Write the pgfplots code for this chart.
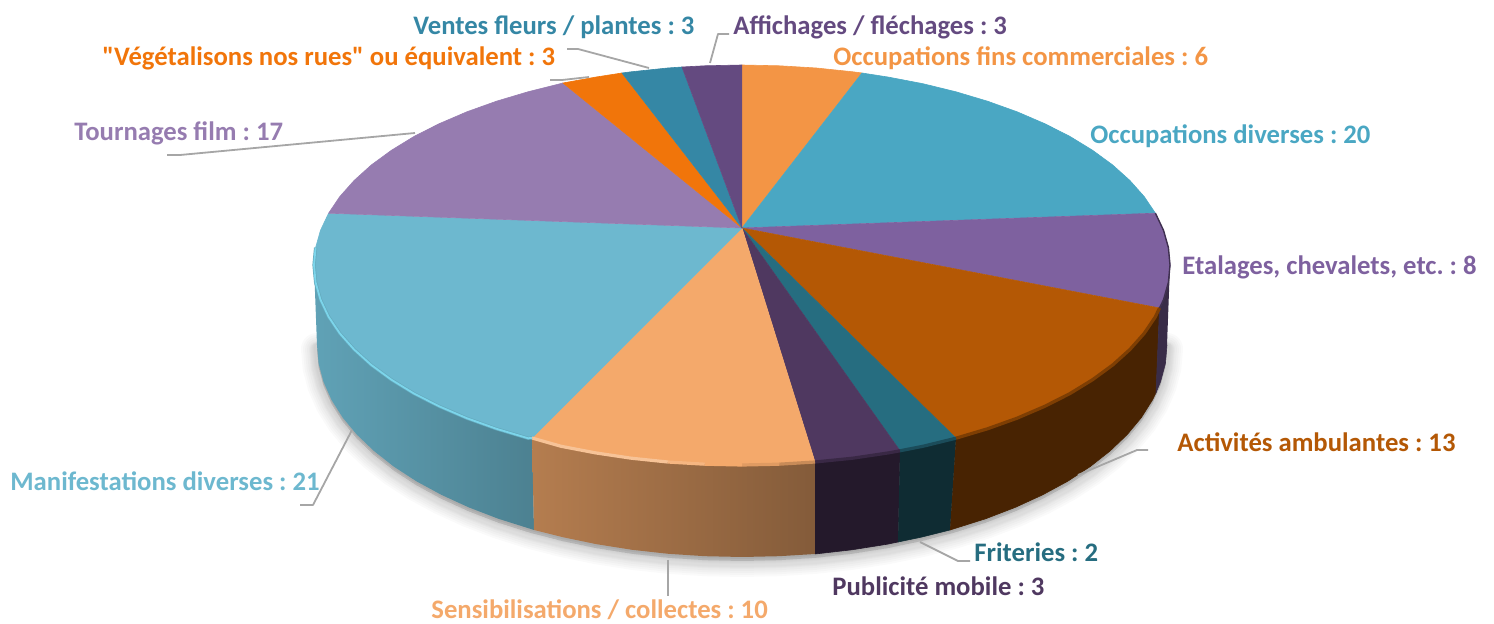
\documentclass[border=0pt]{standalone}
\usepackage{fontspec}
\newfontfamily\labfont{Carlito}
\usepackage{pgfplots}
\pgfplotsset{compat=1.18}
\usepackage{pgfplotstable}

\definecolor{cFins}{HTML}{F39545}
\definecolor{cDiv}{HTML}{4AA7C3}
\definecolor{cEta}{HTML}{7E619F}
\definecolor{cAmb}{HTML}{B45805}
\definecolor{cFri}{HTML}{266D80}
\definecolor{cPub}{HTML}{4F3860}
\definecolor{cSen}{HTML}{F4A96B}
\definecolor{cMan}{HTML}{6DB8CF}
\definecolor{cTou}{HTML}{967CB0}
\definecolor{cVeg}{HTML}{F1750A}
\definecolor{cVen}{HTML}{3587A5}
\definecolor{cAff}{HTML}{644A80}
\definecolor{cGlow}{HTML}{7CD5EB}
\definecolor{leader}{HTML}{A6A6A6}

% lower edge of the disc, pixels of the reference
\pgfplotstableread{
x y
1167 345
1165.4 363.5
1160.5 381.8
1152.5 399.9
1141.4 417.5
1127.2 434.6
1110 451
1090.2 466.6
1067.6 481.3
1042.5 494.9
1015.2 507.4
985.8 518.7
954.5 528.6
921.6 537.1
887.4 544.2
852 549.8
815.8 553.8
779 556.2
742 557
705 556.2
668.2 553.8
632 549.8
596.6 544.2
562.4 537.1
529.5 528.6
498.2 518.7
468.8 507.4
441.5 494.9
416.4 481.3
393.8 466.6
374 451
356.8 434.6
342.6 417.5
331.5 399.9
323.5 381.8
318.6 363.5
317 345
}\lowedge

\newcommand{\lab}[4]{\node[anchor=base west,inner sep=0pt,text=#1,font=\labfont\fontsize{13.35}{15}\selectfont\bfseries\frenchspacing] at (axis cs:#2,#3) {#4};}

\begin{document}
\begin{tikzpicture}
\begin{axis}[
    scale only axis,
    width=747pt,
    height=312pt,
    xmin=0, xmax=1494,
    ymin=0, ymax=624,
    y dir=reverse,
    axis line style={draw=none},
    xtick=\empty, ytick=\empty,
    no markers,
    top/.style={draw=#1,fill=#1,line width=0.3pt},
    wall/.style={draw=#1,fill=#1,line width=0.3pt},
    rim/.style={draw=#1,line width=1.6pt,line join=round,line cap=butt},
    lead/.style={draw=leader,line width=0.9pt,line join=round},
    shadow/.style={draw=black,fill=black,opacity=0.02,line join=round,line cap=round,line width=#1},
]

% soft shadow
\addplot[shadow=16pt,yshift=-2pt] table {\lowedge};
\addplot[shadow=14pt,yshift=-2pt] table {\lowedge};
\addplot[shadow=12pt,yshift=-2pt] table {\lowedge};
\addplot[shadow=10pt,yshift=-2pt] table {\lowedge};
\addplot[shadow=8pt,yshift=-2pt] table {\lowedge};
\addplot[shadow=7pt,yshift=-2pt] table {\lowedge};
\addplot[shadow=6pt,yshift=-2pt] table {\lowedge};
\addplot[shadow=5pt,yshift=-1pt] table {\lowedge};
\addplot[shadow=4pt,yshift=-1pt] table {\lowedge};
\addplot[shadow=3pt,yshift=-1pt] table {\lowedge};

% side walls
\addplot[draw=none,left color=cMan!88!black,right color=cMan!70!black] coordinates {
(314,265)(315.6,282.4)(320.5,299.7)(328.6,316.8)(339.8,333.4)(354.1,349.5)(371.3,365)(391.4,379.7)(414.1,393.6)(439.4,406.4)(466.9,418.2)(496.5,428.8)(528,438.2)(532,438)
(534,530)(498.2,518.7)(468.8,507.4)(441.5,494.9)(416.4,481.3)(393.8,466.6)(374,451)(356.8,434.6)(342.6,417.5)(331.5,399.9)(323.5,381.8)(318.6,363.5)(317,345)
};
\addplot[draw=none,left color=cSen!74!black,right color=cSen!54!black] coordinates {
(532,438)(561.1,446.3)(595.6,452.9)(631.2,458.2)(667.7,462)(704.7,464.2)(742,465)(779.3,464.2)(815,462)
(815,554)(779,556.2)(742,557)(705,556.2)(668.2,553.8)(632,549.8)(596.6,544.2)(562.4,537.1)(534,530)
};
\addplot[wall={cPub!45!black}] coordinates {
(815,462)(852.8,458.2)(888.4,452.9)(900,450.8)
(898,542)(887.4,544.2)(852,549.8)(815,554)
};
\addplot[wall={cFri!40!black}] coordinates {
(900,450.8)(922.9,446.3)(956,438.2)
(950,530)(921.6,537.1)(898,542)
};
\addplot[wall={cAmb!40!black}] coordinates {
(956,438.2)(987.5,428.8)(1017.1,418.2)(1044.6,406.4)(1069.9,393.6)(1092.6,379.7)(1112.7,365)(1129.9,349.5)(1144.2,333.4)(1155.4,316.8)(1159.5,308)
(1156,392.7)(1152.5,399.9)(1141.4,417.5)(1127.2,434.6)(1110,451)(1090.2,466.6)(1067.6,481.3)(1042.5,494.9)(1015.2,507.4)(985.8,518.7)(950,530)
};
\addplot[wall={cEta!45!black}] coordinates {
(1170,265)(1168.4,282.4)(1163.5,299.7)(1159.5,308)
(1156,392.7)(1160.5,381.8)(1165.4,363.5)(1167,345)
};

% top of the disc
\addplot[top=cFins] coordinates {(742,228)(742,65)(779.3,65.8)(816.3,68)(852.8,71.8)(862,73)};
\addplot[top=cDiv] coordinates {(742,228)(862,73)(888.4,77.1)(922.9,83.7)(956,91.8)(987.5,101.2)(1017.1,111.8)(1044.6,123.6)(1069.9,136.4)(1092.6,150.3)(1112.7,165)(1129.9,180.5)(1144.2,196.6)(1155.4,213.2)};
\addplot[top=cEta] coordinates {(742,228)(1155.4,213.2)(1163.5,230.3)(1168.4,247.6)(1170,265)(1168.4,282.4)(1163.5,299.7)(1159.5,308)};
\addplot[top=cAmb] coordinates {(742,228)(1159.5,308)(1155.4,316.8)(1144.2,333.4)(1129.9,349.5)(1112.7,365)(1092.6,379.7)(1069.9,393.6)(1044.6,406.4)(1017.1,418.2)(987.5,428.8)(956,438.2)};
\addplot[top=cFri] coordinates {(742,228)(956,438.2)(922.9,446.3)(900,450.8)};
\addplot[top=cPub] coordinates {(742,228)(900,450.8)(888.4,452.9)(852.8,458.2)(815,462)};
\addplot[top=cSen] coordinates {(742,228)(815,462)(779.3,464.2)(742,465)(704.7,464.2)(667.7,462)(631.2,458.2)(595.6,452.9)(561.1,446.3)(532,438)};
\addplot[top=cMan] coordinates {(742,228)(532,438)(528,438.2)(496.5,428.8)(466.9,418.2)(439.4,406.4)(414.1,393.6)(391.4,379.7)(371.3,365)(354.1,349.5)(339.8,333.4)(328.6,316.8)(320.5,299.7)(315.6,282.4)(314,265)(315.6,247.6)(320.5,230.3)(328.6,213.2)};
\addplot[top=cTou] coordinates {(742,228)(328.6,213.2)(339.8,196.6)(354.1,180.5)(371.3,165)(391.4,150.3)(414.1,136.4)(439.4,123.6)(466.9,111.8)(496.5,101.2)(528,91.8)(563,83)};
\addplot[top=cVeg] coordinates {(742,228)(563,83)(595.6,77.1)(622,73)};
\addplot[top=cVen] coordinates {(742,228)(622,73)(631.2,71.8)(667.7,68)(682,67)};
\addplot[top=cAff] coordinates {(742,228)(682,67)(704.7,65.8)(742,65)};

% bevel along the front edge
\addplot[rim={cAmb!70!black}] coordinates {(956,438.2)(987.5,428.8)(1017.1,418.2)(1044.6,406.4)(1069.9,393.6)(1092.6,379.7)(1112.7,365)(1129.9,349.5)(1144.2,333.4)(1155.4,316.8)(1159.5,308)};
\addplot[rim={cFri!70!black}] coordinates {(900,450.8)(922.9,446.3)(956,438.2)};
\addplot[rim={cPub!72!black}] coordinates {(815,462)(852.8,458.2)(888.4,452.9)(900,450.8)};
\addplot[rim={cSen!82!black}] coordinates {(779.3,464.2)(815,462)};
\addplot[rim={cSen!92!black}] coordinates {(742,465)(779.3,464.2)};
\addplot[rim=cSen] coordinates {(704.7,464.2)(742,465)};
\addplot[rim={cSen!85!white}] coordinates {(667.7,462)(704.7,464.2)};
\addplot[rim={cSen!70!white}] coordinates {(532,438)(561.1,446.3)(595.6,452.9)(631.2,458.2)(667.7,462)};
\addplot[rim={cGlow!60!cMan!85!black}] coordinates {(532,438)(528,438.2)(496.5,428.8)(466.9,418.2)(439.4,406.4)(414.1,393.6)(391.4,379.7)(371.3,365)(354.1,349.5)(339.8,333.4)(328.6,316.8)(320.5,299.7)(315.6,282.4)(314,265)(315.6,247.6)};
\addplot[draw=cGlow,line width=0.9pt,line join=round] coordinates {(532,438)(528,438.2)(496.5,428.8)(466.9,418.2)(439.4,406.4)(414.1,393.6)(391.4,379.7)(371.3,365)(354.1,349.5)(339.8,333.4)(328.6,316.8)(320.5,299.7)(315.6,282.4)(314,265)(315.6,247.6)};
\addplot[draw={cEta!50!black},line width=0.7pt] coordinates {(1155.4,213.2)(1163.5,230.3)(1168.4,247.6)(1170,265)(1168.4,282.4)(1163.5,299.7)(1159.5,308)};

% leader lines
\addplot[lead] coordinates {(710,63)(718,34)(729,34)};
\addplot[lead] coordinates {(649,68)(578,49)(567,49)};
\addplot[lead] coordinates {(589,77)(562,80)(550,80)};
\addplot[lead] coordinates {(415,133)(180,155)(167,155)};
\addplot[lead] coordinates {(352,430)(313,505)(300,505)};
\addplot[lead] coordinates {(668,560)(668,596)};
\addplot[lead] coordinates {(920,542)(958,561)(970,561)};
\addplot[lead] coordinates {(1078,475)(1137,450)(1148,450)};

% labels
\lab{cVen}{413}{35}{Ventes fleurs / plantes : 3}
\lab{cAff}{733}{35}{Affichages / fléchages : 3}
\lab{cVeg}{102}{66}{"Végétalisons nos rues" ou équivalent : 3}
\lab{cFins}{833}{66}{Occupations fins commerciales : 6}
\lab{cDiv}{1090}{144}{Occupations diverses : 20}
\lab{cTou}{74}{141}{Tournages film : 17}
\lab{cEta}{1182}{275}{Etalages, chevalets, etc. : 8}
\lab{cAmb}{1177}{452}{Activités ambulantes : 13}
\lab{cMan}{10}{491}{Manifestations diverses : 21}
\lab{cFri}{974}{562}{Friteries : 2}
\lab{cPub}{832}{596}{Publicité mobile : 3}
\lab{cSen}{431}{618}{Sensibilisations / collectes : 10}

\end{axis}
\end{tikzpicture}
\end{document}
